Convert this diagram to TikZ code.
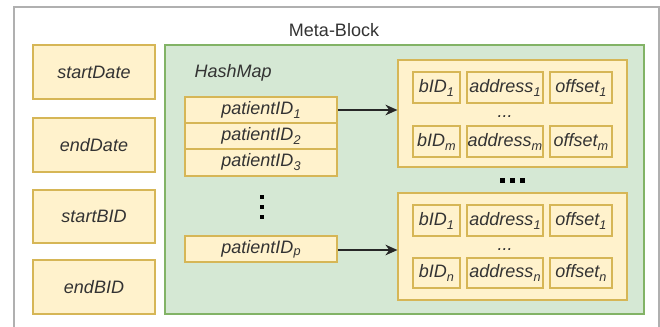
\documentclass[tikz,border=0pt]{standalone}
\usepackage{fontspec}
\setmainfont{Liberation Sans}
\usetikzlibrary{arrows.meta}
\definecolor{yfill}{HTML}{FFF2CC}
\definecolor{ydraw}{HTML}{D6B656}
\definecolor{gfill}{HTML}{D5E8D4}
\definecolor{gdraw}{HTML}{82B366}
\definecolor{txt}{HTML}{333333}
\definecolor{frame}{HTML}{B0B0B0}
\newcommand{\mysub}[1]{\raisebox{-0.22em}{\fontsize{9.5}{10}\selectfont #1}}
% \bx[style]{name}{x1}{y1}{x2}{y2}{text}  (pixel coordinates)
\newcommand{\bx}[7][ybox]{\node[#1, minimum width={(#5-#3)*0.75pt}, minimum height={(#6-#4)*0.75pt}]
  (#2) at ({(#3+#5)/2},{(#4+#6)/2}) {#7};}
\begin{document}
\begin{tikzpicture}[x=0.75pt,y=-0.75pt,
  lbl/.style={text=txt, font=\fontsize{13.5}{16}\selectfont\itshape},
  ybox/.style={lbl, draw=ydraw, fill=yfill, line width=0.9pt, inner sep=0pt},
  gbox/.style={draw=gdraw, fill=gfill, line width=0.9pt, inner sep=0pt},
  framebox/.style={draw=frame, line width=1.6pt, inner sep=0pt},
  arr/.style={draw=black!85, line width=1.1pt, -{Stealth[length=9pt,width=8pt]}},
  dot/.style={fill=black, draw=none}]
\useasboundingbox (0,0) rectangle (660,326);
\clip (0,0) rectangle (660,326);
\fill[white] (0,0) rectangle (660,326);
% outer frame
\bx[framebox]{meta}{14}{7}{659}{345}{}
\node[text=txt, font=\fontsize{13.5}{16}\selectfont] (metalbl) at (334,30) {Meta-Block};
% left column
\bx{startDate}{33}{45}{155}{99}{startDate}
\bx{endDate}{33}{118}{155}{172}{endDate}
\bx{startBID}{33}{190}{155}{243}{startBID}
\bx{endBID}{33}{260}{155}{314}{endBID}
% hashmap
\bx[gbox]{hashmap}{165}{45}{644}{314}{}
\node[lbl, anchor=west] (hmlbl) at (190,73) {HashMap};
\bx{pid1}{185}{97}{337}{123}{patientID\mysub{1}}
\bx{pid2}{185}{123}{337}{149}{patientID\mysub{2}}
\bx{pid3}{185}{149}{337}{176}{patientID\mysub{3}}
\bx{pidp}{185}{236}{337}{262}{patientID\raisebox{-0.1em}{\fontsize{9.5}{10}\selectfont p}}
% vertical dots
\foreach \yy in {197,207,217} \fill[dot] (259.8,\yy-2) rectangle (263.8,\yy+2);
% bucket boxes
\bx{top}{398}{60}{627}{167}{}
\bx{bot}{398}{193}{627}{300}{}
\foreach \xx in {502.5,512.5,522.5} \fill[dot] (\xx-2.5,178.3) rectangle (\xx+2.5,183.3);
% top cells
\bx{tb1}{413}{72}{460}{103}{bID\mysub{1}}
\bx{ta1}{467}{72}{543}{103}{address\mysub{1}}
\bx{to1}{550}{72}{612}{103}{offset\mysub{1}}
\node[lbl, inner sep=0pt] (tdots) at (505,117) {...};
\bx{tbm}{413}{126}{460}{157}{bID\mysub{m}}
\bx{tam}{467}{126}{543}{157}{address\mysub{m}}
\bx{tom}{550}{126}{612}{157}{offset\mysub{m}}
% bottom cells
\bx{bb1}{413}{205}{460}{236}{bID\mysub{1}}
\bx{ba1}{467}{205}{543}{236}{address\mysub{1}}
\bx{bo1}{550}{205}{612}{236}{offset\mysub{1}}
\node[lbl, inner sep=0pt] (bdots) at (505,250) {...};
\bx{bbn}{413}{258}{460}{288}{bID\mysub{n}}
\bx{ban}{467}{258}{543}{288}{address\mysub{n}}
\bx{bon}{550}{258}{612}{288}{offset\mysub{n}}
% arrows
\draw[arr] (pid1.east) -- (pid1.east -| top.west);
\draw[arr] (pidp.east) ++(0,1) coordinate (pe) -- (pe -| bot.west);
\end{tikzpicture}
\end{document}
